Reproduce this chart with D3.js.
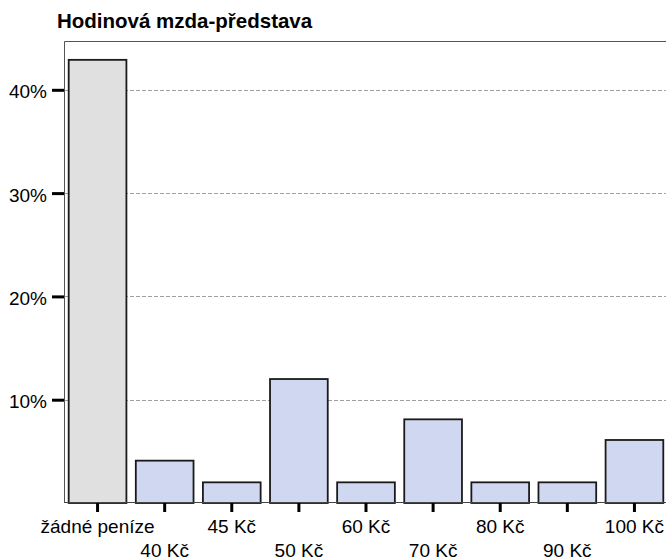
<!DOCTYPE html>
<html>
<head>
<meta charset="utf-8">
<script src="https://cdn.jsdelivr.net/npm/d3@7"></script>
<style>
  html, body { margin: 0; padding: 0; background: #fff; }
  svg { display: block; font-family: "Liberation Sans", Arial, sans-serif; }
</style>
</head>
<body>
<svg id="chart" width="666" height="560"></svg>
<script>
// Hourly wage expectation: share of respondents per answer
const categories = ["žádné peníze", "40 Kč", "45 Kč", "50 Kč", "60 Kč", "70 Kč", "80 Kč", "90 Kč", "100 Kč"];
const shares = [42.9, 4.1, 2.0, 12.0, 2.0, 8.1, 2.0, 2.0, 6.1];
const yTicks = [10, 20, 30, 40];
const title = "Hodinová mzda-představa";

const svg = d3.select("#chart");
const plotLeft = 64, plotTop = 41, plotRight = 668, plotBottom = 503;
const labelFont = "Liberation Sans, Arial, sans-serif";

const x = d3.scaleBand().domain(categories).range([plotLeft, plotRight]).paddingInner(0.14).paddingOuter(0.07);
const y = d3.scaleLinear().domain([0, 10]).range([plotBottom, plotBottom - 103.3]);

// title
svg.append("text")
  .attr("x", 57).attr("y", 28)
  .attr("font-size", 20.5).attr("font-weight", "bold").attr("fill", "#000")
  .text(title);

// dashed gridlines
svg.append("g").selectAll("line").data(yTicks).join("line")
  .attr("x1", plotLeft).attr("x2", 666)
  .attr("y1", d => Math.round(y(d)) + 0.5).attr("y2", d => Math.round(y(d)) + 0.5)
  .attr("stroke", "#a0a0a0").attr("stroke-width", 1).attr("stroke-dasharray", "4,2");

// frame (top and left edges)
svg.append("path")
  .attr("d", `M${plotLeft + 0.5},${plotBottom} V${plotTop + 0.5} H666`)
  .attr("fill", "none").attr("stroke", "#555").attr("stroke-width", 1);

// bars
svg.append("g").selectAll("rect").data(categories).join("rect")
  .attr("x", d => x(d))
  .attr("width", x.bandwidth())
  .attr("y", (d, i) => y(shares[i]))
  .attr("height", (d, i) => plotBottom - y(shares[i]))
  .attr("fill", (d, i) => i === 0 ? "#e0e0e0" : "#d0d8f1")
  .attr("stroke", "#1a1a1a").attr("stroke-width", 1.8);

// baseline
svg.append("line")
  .attr("x1", plotLeft).attr("x2", 666).attr("y1", plotBottom - 0.5).attr("y2", plotBottom - 0.5)
  .attr("stroke", "#444").attr("stroke-width", 1);

// y axis
const yAxis = d3.axisLeft(y).tickValues(yTicks).tickFormat(d => d + "%").tickSize(12).tickPadding(5);
const gy = svg.append("g").attr("transform", `translate(${plotLeft},0)`).call(yAxis);
gy.select(".domain").remove();
gy.selectAll(".tick line").attr("stroke", "#000").attr("stroke-width", 3);
gy.selectAll(".tick text").attr("font-size", 19).attr("fill", "#000")
  .attr("font-family", labelFont).attr("dy", "0.42em");

// x axis with staggered labels
const xAxis = d3.axisBottom(x).tickSize(9).tickPadding(5);
const gx = svg.append("g").attr("transform", `translate(0,${plotBottom})`).call(xAxis);
gx.select(".domain").remove();
gx.selectAll(".tick line").attr("stroke", "#000").attr("stroke-width", 3);
gx.selectAll(".tick text").attr("font-size", 19).attr("fill", "#000")
  .attr("font-family", labelFont).attr("dy", 0)
  .attr("y", (d, i) => i % 2 === 0 ? 30 : 54);
</script>
</body>
</html>
